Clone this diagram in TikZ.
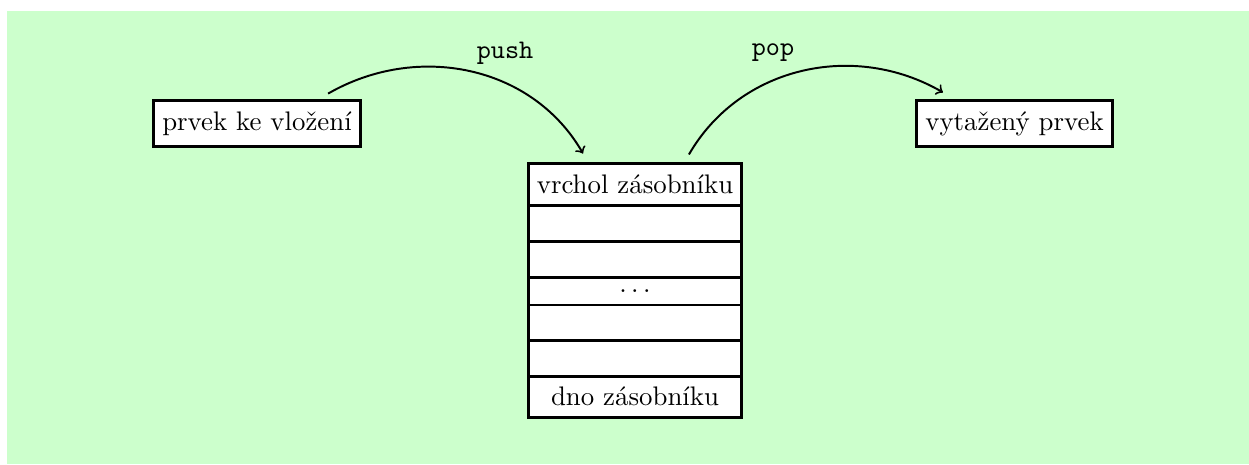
\documentclass[tikz,border=0pt]{standalone}
\definecolor{bg}{HTML}{CCFFCC}
\begin{document}
\begin{tikzpicture}[x=0.408pt,y=-0.408pt,
  every node/.style={font=\fontsize{10.95}{13}\selectfont},
  box/.style={draw,very thick,fill=white,inner sep=0pt},
  cell/.style={box,minimum width=86.9pt},
  arr/.style={->,thick},
  lbl/.style={font=\fontsize{10.95}{13}\selectfont\ttfamily,inner sep=0pt}]
\useasboundingbox (0,0) rectangle (1249,464);
\fill[bg] (7,11) rectangle (1249,464);
\node[box,minimum width=84.5pt,minimum height=18.8pt] (in) at (257,123.5) {prvek ke vložení};
\node[box,minimum width=80pt,minimum height=18.8pt] (out) at (1014.5,123.5) {vytažený prvek};
\node[cell,minimum height=17.3pt] (c1) at (635,184.75) {vrchol zásobníku};
\node[cell,minimum height=14.5pt] (c2) at (635,223.75) {};
\node[cell,minimum height=14.5pt] (c3) at (635,259.25) {};
\node[cell,minimum height=11.4pt] (c4) at (635,291) {$\ldots$};
\node[cell,minimum height=14.5pt] (c5) at (635,322.75) {};
\node[cell,minimum height=14.5pt] (c6) at (635,358.25) {};
\node[cell,minimum height=16.9pt] (c7) at (635,396.75) {dno zásobníku};
\node[lbl] (push) at (505,53) {push};
\node[lbl] (pop) at (773,53) {pop};
\draw[arr] ([xshift=29pt,yshift=2.2pt]in.north) to[out=30,in=120] ([xshift=-21.2pt,yshift=3.5pt]c1.north);
\draw[arr] ([xshift=22pt,yshift=3.1pt]c1.north) to[out=60,in=150] ([xshift=-29.2pt,yshift=2.7pt]out.north);
\end{tikzpicture}
\end{document}
